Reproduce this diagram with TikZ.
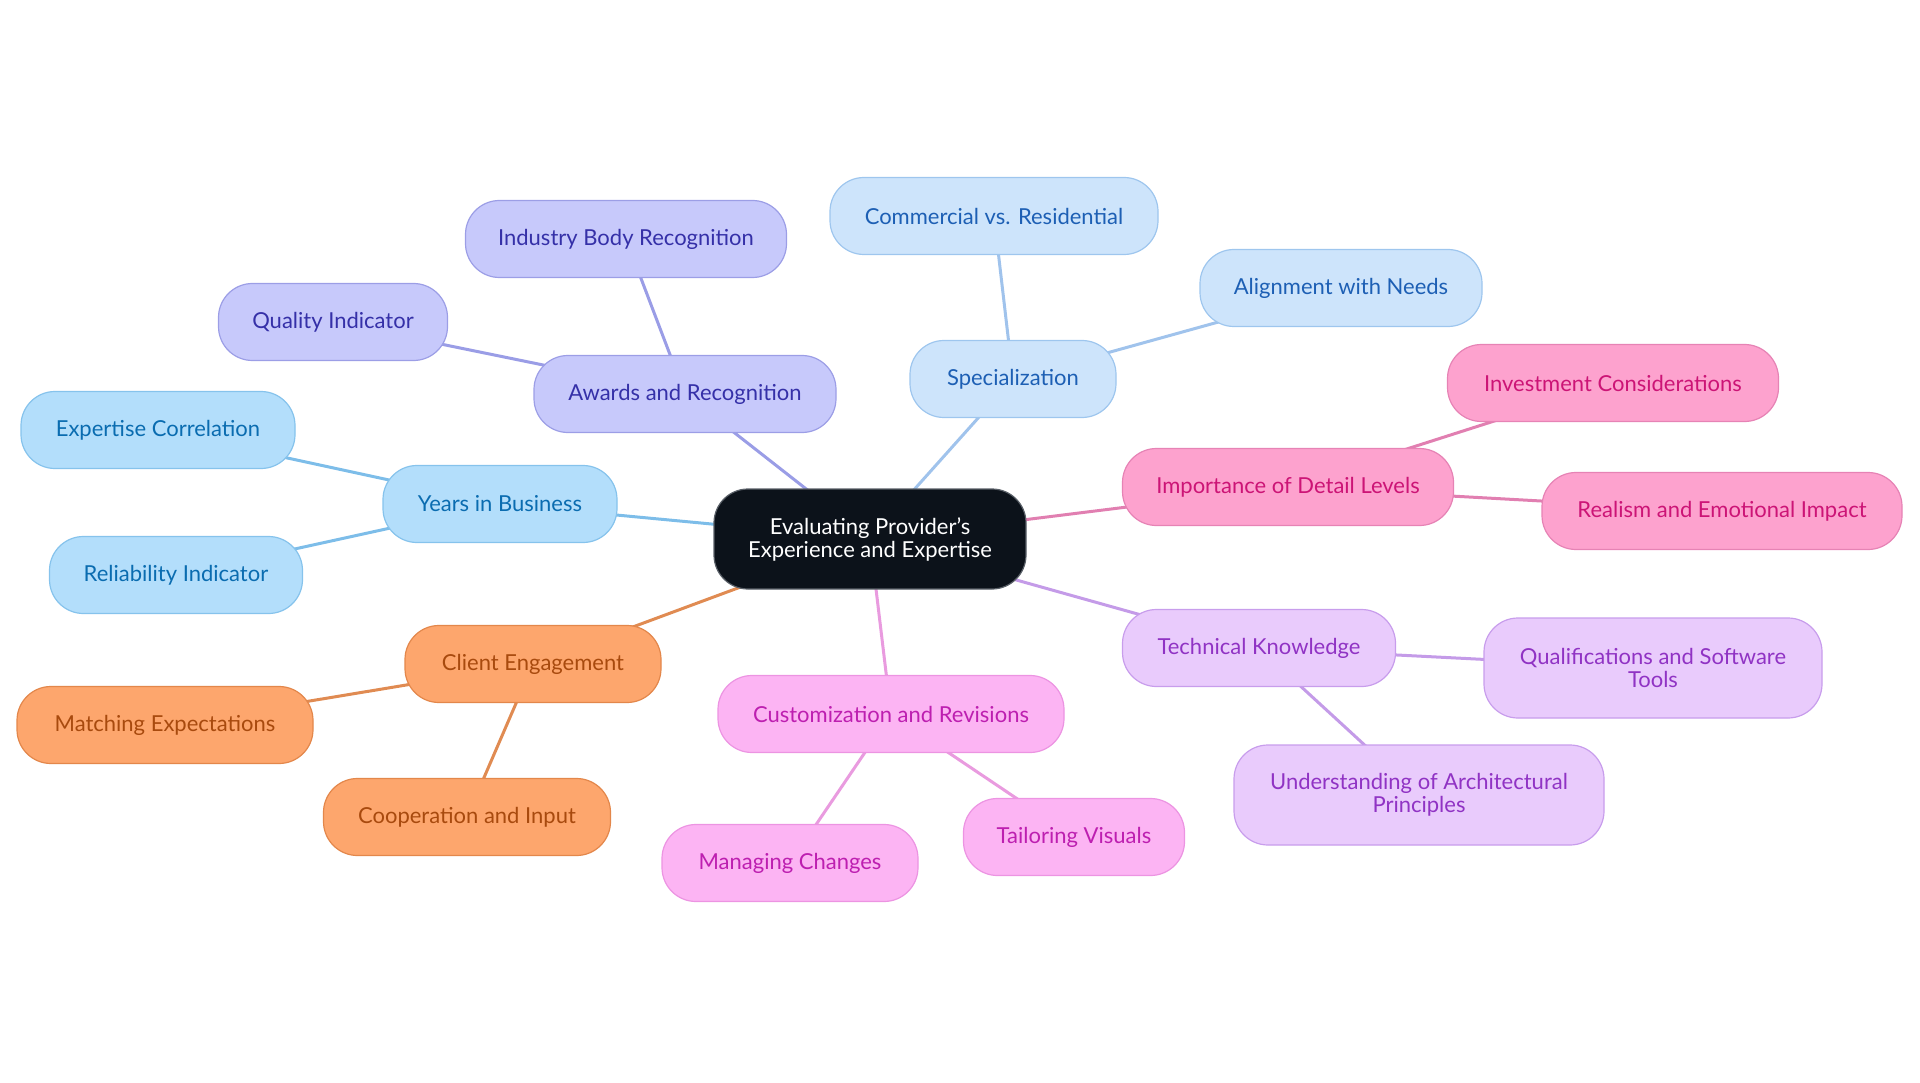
\documentclass[tikz,border=0pt]{standalone}
\usepackage{fontspec}
\setmainfont{Lato}
\usepackage{tikz}
\usetikzlibrary{backgrounds}

\definecolor{hubfill}{HTML}{0C121A}
\definecolor{hubline}{HTML}{5A6068}
\definecolor{yfill}{HTML}{B3DEFB}
\definecolor{yline}{HTML}{86C3EC}
\definecolor{ytext}{HTML}{0A6CB0}
\definecolor{yedge}{HTML}{7DBDE9}
\definecolor{afill}{HTML}{C7C9FB}
\definecolor{aline}{HTML}{9C9EE6}
\definecolor{atext}{HTML}{3530A8}
\definecolor{aedge}{HTML}{9A9DE6}
\definecolor{sfill}{HTML}{CDE4FB}
\definecolor{sline}{HTML}{9EC6EE}
\definecolor{stext}{HTML}{1D5FB4}
\definecolor{sedge}{HTML}{A0C3EC}
\definecolor{dfill}{HTML}{FDA2CE}
\definecolor{dline}{HTML}{E683B5}
\definecolor{dtext}{HTML}{CC1476}
\definecolor{dedge}{HTML}{E17FB1}
\definecolor{tfill}{HTML}{E9CBFC}
\definecolor{tline}{HTML}{C89DEC}
\definecolor{ttext}{HTML}{9033C4}
\definecolor{tedge}{HTML}{C49BE8}
\definecolor{cfill}{HTML}{FCB4F3}
\definecolor{cline}{HTML}{EC94E2}
\definecolor{ctext}{HTML}{BD1FB0}
\definecolor{cedge}{HTML}{E99BDF}
\definecolor{ofill}{HTML}{FDA66D}
\definecolor{oline}{HTML}{E3874B}
\definecolor{otext}{HTML}{A84A0E}
\definecolor{oedge}{HTML}{E08B52}

\begin{document}
\begin{tikzpicture}[x=1pt,y=-1pt,
    every node/.style={font=\fontsize{22}{23}\selectfont},
    leaf/.style={rectangle,rounded corners=34pt,minimum height=77pt,
      inner sep=0pt,align=center,line width=1.2pt},
    tall/.style={minimum height=100pt},
    hub/.style={leaf,rounded corners=34pt,minimum width=312pt,minimum height=100pt,
      fill=hubfill,draw=hubline,text=white},
    ybox/.style={leaf,fill=yfill,draw=yline,text=ytext},
    abox/.style={leaf,fill=afill,draw=aline,text=atext},
    sbox/.style={leaf,fill=sfill,draw=sline,text=stext},
    dbox/.style={leaf,fill=dfill,draw=dline,text=dtext},
    tbox/.style={leaf,fill=tfill,draw=tline,text=ttext},
    cbox/.style={leaf,fill=cfill,draw=cline,text=ctext},
    obox/.style={leaf,fill=ofill,draw=oline,text=otext},
    link/.style={line width=3pt}]

\useasboundingbox (0,0) rectangle (1920,1083);

%中心
\node[hub] (hub) at (870,539) {Evaluating Provider's\\Experience and Expertise};

%左
\foreach \n/\x/\y/\w/\t in {years/500/504/234/Years in Business,
    expcor/158/430/274/Expertise Correlation,
    relind/176/575/253/Reliability Indicator}
  \node[ybox,minimum width=\w pt] (\n) at (\x,\y) {\t};

\foreach \n/\x/\y/\w/\t in {awards/685/394/302/Awards and Recognition,
    qualind/333/322/229/Quality Indicator,
    indbody/626/239/321/Industry Body Recognition}
  \node[abox,minimum width=\w pt] (\n) at (\x,\y) {\t};

\foreach \n/\x/\y/\w/\t in {client/533/664/256/Client Engagement,
    matching/165/725/296/Matching Expectations,
    coop/467/817/287/Cooperation and Input}
  \node[obox,minimum width=\w pt] (\n) at (\x,\y) {\t};

%右
\foreach \n/\x/\y/\w/\t in {spec/1013/379/206/Specialization,
    comres/994/216/328/Commercial vs. Residential,
    alineeds/1341/288/282/Alignment with Needs}
  \node[sbox,minimum width=\w pt] (\n) at (\x,\y) {\t};

\foreach \n/\x/\y/\w/\t in {detail/1288/487/331/Importance of Detail Levels,
    invest/1613/383/331/Investment Considerations,
    realism/1722/511/360/Realism and Emotional Impact}
  \node[dbox,minimum width=\w pt] (\n) at (\x,\y) {\t};

\node[tbox,minimum width=273pt] (tech) at (1259,648) {Technical Knowledge};
\node[tbox,tall,minimum width=338pt] (qualsoft) at (1653,668) {Qualifications and Software\\Tools};
\node[tbox,tall,minimum width=370pt] (archpr) at (1419,795) {Understanding of Architectural\\Principles};

%下
\foreach \n/\x/\y/\w/\t in {custom/891/714/346/Customization and Revisions,
    manage/790/863/256/Managing Changes,
    tailor/1074/837/221/Tailoring Visuals}
  \node[cbox,minimum width=\w pt] (\n) at (\x,\y) {\t};

%连线
\begin{scope}[on background layer]
  \foreach \a/\b/\c in {hub/years/yedge, years/expcor/yedge, years/relind/yedge,
      hub/awards/aedge, awards/qualind/aedge, awards/indbody/aedge,
      hub/client/oedge, client/matching/oedge, client/coop/oedge,
      hub/spec/sedge, spec/comres/sedge, spec/alineeds/sedge,
      hub/detail/dedge, detail/invest/dedge, detail/realism/dedge,
      hub/tech/tedge, tech/qualsoft/tedge, tech/archpr/tedge,
      hub/custom/cedge, custom/manage/cedge, custom/tailor/cedge}
    \draw[link,\c] (\a.center) -- (\b.center);
\end{scope}

\end{tikzpicture}
\end{document}
